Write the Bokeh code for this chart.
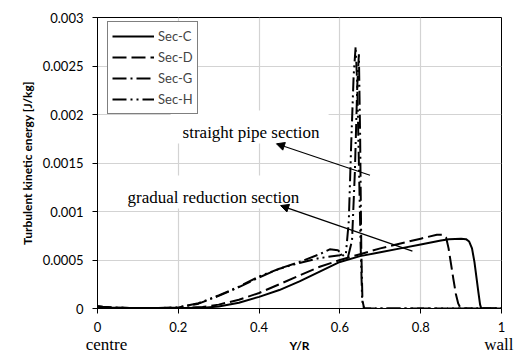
from bokeh.plotting import figure
from bokeh.models import (Range1d, FixedTicker, Label, Arrow, NormalHead, Legend, LegendItem,
                          LinearAxis, Title)
from bokeh.embed import file_html
from bokeh.resources import INLINE

# ---------------- data ----------------
sec_c_x = [0, 0.03, 0.08, 0.15, 0.22, 0.27, 0.3, 0.35, 0.4, 0.45, 0.5, 0.55, 0.6, 0.65, 0.7, 0.75,
           0.8, 0.85, 0.87, 0.9, 0.912, 0.92, 0.927, 0.933, 0.938, 0.943, 0.947, 0.95, 1.0]
sec_c_y = [2.0e-5, 1.0e-5, 5e-6, 4e-6, 5e-6, 1.0e-5, 2.0e-5, 6e-5, 1.2e-4, 1.9e-4, 2.8e-4, 3.8e-4,
           4.8e-4, 5.4e-4, 5.8e-4, 6.2e-4, 6.6e-4, 7.0e-4, 7.15e-4, 7.2e-4, 7.15e-4, 6.9e-4, 6.2e-4,
           4.8e-4, 3.2e-4, 1.6e-4, 4e-5, 0, 0]

sec_d_x = [0, 0.03, 0.08, 0.15, 0.22, 0.26, 0.3, 0.35, 0.4, 0.45, 0.5, 0.55, 0.6, 0.65, 0.7, 0.75,
           0.8, 0.84, 0.855, 0.863, 0.869, 0.875, 0.881, 0.887, 0.893, 0.898, 0.9, 1.0]
sec_d_y = [2e-5, 1e-5, 5e-6, 4e-6, 6e-6, 1.5e-5, 4e-5, 9e-5, 1.6e-4, 2.5e-4, 3.4e-4, 4.3e-4, 5.0e-4,
           5.6e-4, 6.2e-4, 6.7e-4, 7.2e-4, 7.6e-4, 7.6e-4, 7.3e-4, 6.2e-4, 4.6e-4, 3.0e-4, 1.5e-4,
           5e-5, 1e-5, 0, 0]

sec_g_x = [0, 0.03, 0.08, 0.15, 0.2, 0.25, 0.3, 0.35, 0.4, 0.45, 0.5, 0.55, 0.575, 0.595, 0.61,
           0.62, 0.63, 0.637, 0.643, 0.647, 0.65, 0.653, 0.656, 0.66, 1.0]
sec_g_y = [2e-5, 1e-5, 5e-6, 5e-6, 1e-5, 5e-5, 1.3e-4, 2.2e-4, 3.2e-4, 4.1e-4, 4.8e-4, 5.6e-4,
           6.1e-4, 6.0e-4, 5.4e-4, 5.3e-4, 7e-4, 1.4e-3, 2.3e-3, 2.62e-3, 1.8e-3, 6e-4, 5e-5, 0, 0]

sec_h_x = [0, 0.03, 0.08, 0.15, 0.2, 0.25, 0.3, 0.35, 0.4, 0.45, 0.5, 0.55, 0.6, 0.615, 0.622,
           0.628, 0.634, 0.639, 0.643, 0.647, 0.651, 0.655, 0.66, 1.0]
sec_h_y = [2e-5, 1e-5, 5e-6, 5e-6, 1.2e-5, 5.5e-5, 1.35e-4, 2.25e-4, 3.3e-4, 4.1e-4, 4.7e-4, 5.2e-4,
           5.5e-4, 5.7e-4, 9e-4, 1.7e-3, 2.4e-3, 2.7e-3, 2.3e-3, 1.5e-3, 7e-4, 1e-4, 0, 0]

series_names = ["Sec-C", "Sec-D", "Sec-G", "Sec-H"]

x_ticks = [0, 0.2, 0.4, 0.6, 0.8, 1.0]
x_tick_labels = ["0", "0.2", "0.4", "0.6", "0.8", "1"]
y_ticks = [0, 0.0005, 0.001, 0.0015, 0.002, 0.0025, 0.003]
y_tick_labels = ["0", "0.0005", "0.001", "0.0015", "0.002", "0.0025", "0.003"]

end_labels = ["centre", "wall"]
y_title = "Turbulent kinetic energy [J/kg]"
x_title = "Y/R"
annot_straight = "straight pipe section"
annot_gradual = "gradual reduction section"

# ---------------- figure ----------------
SANS = "Lato"
SERIF = "Liberation Serif"

p = figure(output_backend="svg", toolbar_location=None,
           frame_width=404, frame_height=291,
           min_border_left=97, min_border_right=13, min_border_top=17, min_border_bottom=50,
           x_range=Range1d(0, 1), y_range=Range1d(0, 0.003),
           background_fill_color="white", border_fill_color="white")
p.outline_line_color = "black"
p.outline_line_width = 1

for ax in (p.xaxis[0], p.yaxis[0]):
    ax.axis_line_color = "black"
    ax.major_tick_line_color = "black"
    ax.major_tick_out = 5
    ax.major_tick_in = 0
    ax.minor_tick_line_color = None
    ax.major_label_text_font = SANS
    ax.major_label_text_font_size = "13px"
    ax.major_label_text_color = "black"
    ax.major_label_standoff = 9
p.xaxis[0].major_label_standoff = 8

p.xaxis.ticker = FixedTicker(ticks=x_ticks)
p.xaxis.major_label_overrides = {t: l for t, l in zip(x_ticks, x_tick_labels)}
p.yaxis.ticker = FixedTicker(ticks=y_ticks)
p.yaxis.major_label_overrides = {t: l for t, l in zip(y_ticks, y_tick_labels)}

p.xgrid.ticker = FixedTicker(ticks=x_ticks)
p.ygrid.ticker = FixedTicker(ticks=y_ticks)
p.grid.grid_line_color = "#d3d3d3"
p.grid.grid_line_width = 1.2

# second bottom axis: "centre" / "wall" + axis title "Y/R"
end_pos = [0.0223, 0.9933]
cw_axis = LinearAxis(ticker=FixedTicker(ticks=end_pos),
                     major_label_overrides={t: l for t, l in zip(end_pos, end_labels)},
                     axis_line_color=None, major_tick_line_color=None, minor_tick_line_color=None,
                     major_tick_out=0, major_tick_in=0, major_label_standoff=0,
                     major_label_text_font=SERIF, major_label_text_font_size="17px",
                     major_label_text_color="black",
                     axis_label=x_title, axis_label_text_font=SANS, axis_label_text_font_size="12px",
                     axis_label_text_font_style="bold", axis_label_text_color="black",
                     axis_label_standoff=-19, bounds=(-0.04, 0.9933))
p.add_layout(cw_axis, "below")

# y title
p.add_layout(Title(text=y_title, align="center", offset=30, standoff=10, text_font=SANS,
                   text_font_size="12px", text_font_style="bold", text_color="black"), "left")

# white boxes behind annotation texts (cover grid)
p.quad(left=[0.181, 0.0446], right=[0.572, 0.520], bottom=[0.001702, 0.00103], top=[0.002041, 0.001371],
       fill_color="white", line_color=None)

styles = ["solid", "14 5", "14 4 2 4", "14 4 2 4 2 4"]
xs = [sec_c_x, sec_d_x, sec_g_x, sec_h_x]
ys = [sec_c_y, sec_d_y, sec_g_y, sec_h_y]
items = []
for name, x, y, dash in zip(series_names, xs, ys, styles):
    r = p.line(x, y, line_color="black", line_width=2, line_dash=dash)
    items.append(LegendItem(label=name, renderers=[r]))

legend = Legend(items=items, location=(10, 194), orientation="vertical",
                border_line_color="black", border_line_width=1,
                background_fill_color="white", background_fill_alpha=1,
                label_text_font=SANS, label_text_font_size="13px",
                glyph_width=42, glyph_height=20, label_height=20, label_standoff=4,
                spacing=1, padding=4, margin=0)
p.add_layout(legend, "center")

# annotation texts
p.add_layout(Label(x=0.2106, y=0.001815, text=annot_straight, text_font=SERIF,
                   text_font_size="17px", text_color="black", text_baseline="alphabetic",
                   text_align="left"))
p.add_layout(Label(x=0.0743, y=0.001144, text=annot_gradual, text_font=SERIF,
                   text_font_size="17px", text_color="black", text_baseline="alphabetic",
                   text_align="left"))

# arrows
for (x0, y0, x1, y1) in [(0.6745, 0.001374, 0.443, 0.001698), (0.7795, 0.000591, 0.4533, 0.001061)]:
    p.add_layout(Arrow(x_start=x0, y_start=y0, x_end=x1, y_end=y1, line_color="black", line_width=1.2,
                       end=NormalHead(size=8, fill_color="black", line_color="black", line_width=1)))

open("out.html", "w").write(file_html(p, INLINE))
